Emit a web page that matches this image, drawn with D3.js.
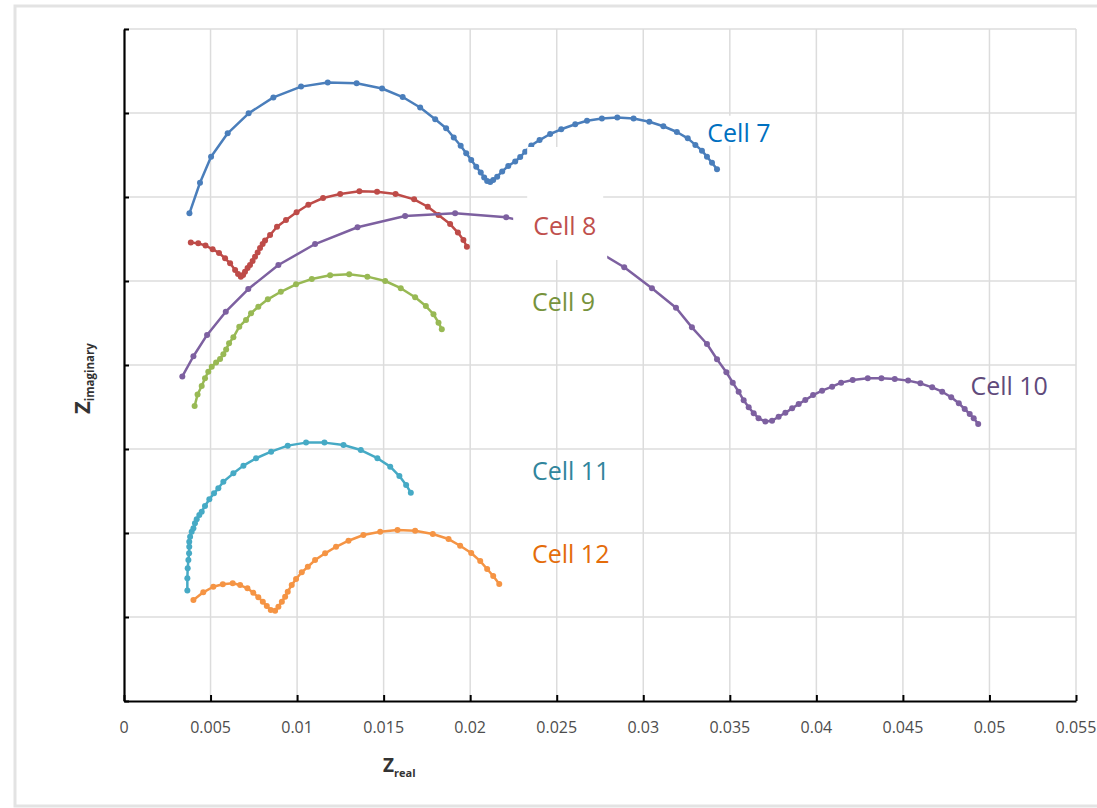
<!DOCTYPE html>
<html>
<head>
<meta charset="utf-8">
<script src="https://cdn.jsdelivr.net/npm/d3@7"></script>
<style>
  html, body { margin: 0; padding: 0; background: #fff; }
  svg { display: block; }
</style>
</head>
<body>
<div id="chart"></div>
<script>
// Nyquist plots, Zreal vs Zimaginary (offset per cell)
const xTicks = [0, 0.005, 0.01, 0.015, 0.02, 0.025, 0.03, 0.035, 0.04, 0.045, 0.05, 0.055];
const xTickLabels = ["0", "0.005", "0.01", "0.015", "0.02", "0.025", "0.03", "0.035", "0.04", "0.045", "0.05", "0.055"];
const yTicks = [0, 0.005, 0.01, 0.015, 0.02, 0.025, 0.03, 0.035, 0.04];

const cellNames = ["Cell 7", "Cell 8", "Cell 9", "Cell 10", "Cell 11", "Cell 12"];
const lineColors = ["#4A7EBB", "#BE4B48", "#98B954", "#7D60A0", "#46AAC5", "#F59444"];
const labelColors = ["#0070C0", "#C0504D", "#77933C", "#604A7B", "#31859C", "#E46C0A"];
// where each label sits, in data units [Zreal, Zimag]
const labelAt = [[0.0337, 0.03329], [0.02364, 0.02774], [0.02357, 0.02323], [0.0489, 0.01821], [0.02357, 0.01315], [0.02357, 0.0082]];

const cell7 = [[0.00378,0.02903],[0.00439,0.03085],[0.00503,0.03240],[0.00599,0.03379],[0.00720,0.03498],[0.00863,0.03593],
  [0.01023,0.03657],[0.01177,0.03682],[0.01344,0.03677],[0.01491,0.03646],[0.01610,0.03595],[0.01711,0.03533],[0.01798,0.03463],
  [0.01861,0.03409],[0.01905,0.03354],[0.01945,0.03305],[0.01977,0.03260],[0.02006,0.03220],[0.02035,0.03180],[0.02061,0.03146],
  [0.02081,0.03116],[0.02098,0.03095],[0.02116,0.03089],[0.02133,0.03101],[0.02156,0.03121],[0.02185,0.03152],[0.02220,0.03185],
  [0.02260,0.03211],[0.02289,0.03238],[0.02318,0.03270],[0.02353,0.03307],[0.02401,0.03339],[0.02462,0.03375],[0.02526,0.03403],
  [0.02607,0.03433],[0.02675,0.03454],[0.02761,0.03467],[0.02850,0.03473],[0.02944,0.03467],[0.03035,0.03448],[0.03116,0.03421],
  [0.03194,0.03387],[0.03257,0.03349],[0.03301,0.03310],[0.03339,0.03276],[0.03368,0.03240],[0.03397,0.03204],[0.03426,0.03165]];

const cell8 = [[0.00386,0.02729],[0.00429,0.02724],[0.00471,0.02711],[0.00512,0.02689],[0.00549,0.02667],[0.00584,0.02635],
  [0.00613,0.02605],[0.00642,0.02565],[0.00659,0.02542],[0.00675,0.02526],[0.00688,0.02536],[0.00699,0.02555],[0.00714,0.02577],
  [0.00728,0.02595],[0.00743,0.02619],[0.00757,0.02645],[0.00772,0.02670],[0.00786,0.02696],[0.00801,0.02720],[0.00815,0.02741],
  [0.00844,0.02774],[0.00884,0.02823],[0.00936,0.02863],[0.00997,0.02909],[0.01065,0.02954],[0.01150,0.02994],[0.01249,0.03018],
  [0.01360,0.03034],[0.01462,0.03031],[0.01569,0.03018],[0.01676,0.02986],[0.01755,0.02942],[0.01817,0.02893],[0.01884,0.02839],
  [0.01929,0.02788],[0.01961,0.02744],[0.01981,0.02704]];

const cell9 = [[0.00408,0.01756],[0.00425,0.01824],[0.00449,0.01875],[0.00468,0.01921],[0.00487,0.01960],[0.00507,0.01990],
  [0.00532,0.02015],[0.00555,0.02036],[0.00574,0.02064],[0.00590,0.02093],[0.00607,0.02129],[0.00632,0.02165],[0.00666,0.02228],
  [0.00705,0.02268],[0.00734,0.02308],[0.00776,0.02347],[0.00831,0.02391],[0.00906,0.02436],[0.00994,0.02480],[0.01085,0.02512],
  [0.01191,0.02534],[0.01301,0.02540],[0.01406,0.02526],[0.01509,0.02500],[0.01599,0.02457],[0.01682,0.02403],[0.01744,0.02351],
  [0.01788,0.02302],[0.01817,0.02252],[0.01836,0.02213]];

const cell10 = [[0.00337,0.01932],[0.00401,0.02052],[0.00480,0.02179],[0.00588,0.02317],[0.00718,0.02452],[0.00892,0.02595],
  [0.01104,0.02720],[0.01349,0.02820],[0.01624,0.02887],[0.01913,0.02903],[0.02208,0.02879],[0.02491,0.02815],[0.02705,0.02696],
  [0.02890,0.02582],[0.03050,0.02457],[0.03189,0.02341],[0.03281,0.02224],[0.03368,0.02125],[0.03426,0.02034],[0.03480,0.01957],
  [0.03517,0.01895],[0.03551,0.01841],[0.03580,0.01790],[0.03609,0.01748],[0.03638,0.01713],[0.03666,0.01683],[0.03705,0.01664],
  [0.03744,0.01668],[0.03782,0.01692],[0.03821,0.01716],[0.03860,0.01742],[0.03898,0.01768],[0.03936,0.01792],[0.03981,0.01821],
  [0.04033,0.01847],[0.04091,0.01871],[0.04143,0.01895],[0.04210,0.01911],[0.04297,0.01921],[0.04376,0.01921],[0.04453,0.01917],
  [0.04530,0.01907],[0.04601,0.01891],[0.04669,0.01867],[0.04727,0.01841],[0.04779,0.01808],[0.04823,0.01772],[0.04857,0.01738],
  [0.04886,0.01708],[0.04909,0.01683],[0.04935,0.01649]];

const cell11 = [[0.00366,0.00657],[0.00366,0.00730],[0.00368,0.00790],[0.00372,0.00839],[0.00376,0.00879],[0.00377,0.00918],
  [0.00377,0.00948],[0.00382,0.00978],[0.00391,0.01008],[0.00401,0.01028],[0.00410,0.01058],[0.00420,0.01082],[0.00435,0.01107],
  [0.00449,0.01127],[0.00468,0.01161],[0.00493,0.01201],[0.00520,0.01236],[0.00545,0.01266],[0.00574,0.01305],[0.00632,0.01355],
  [0.00690,0.01401],[0.00763,0.01445],[0.00850,0.01484],[0.00946,0.01520],[0.01052,0.01538],[0.01158,0.01538],[0.01268,0.01524],
  [0.01368,0.01494],[0.01464,0.01445],[0.01538,0.01395],[0.01591,0.01339],[0.01630,0.01286],[0.01657,0.01240]];

const cell12 = [[0.00401,0.00601],[0.00458,0.00647],[0.00516,0.00680],[0.00571,0.00695],[0.00628,0.00701],[0.00671,0.00690],
  [0.00713,0.00671],[0.00747,0.00645],[0.00776,0.00617],[0.00802,0.00591],[0.00825,0.00565],[0.00848,0.00542],[0.00873,0.00537],
  [0.00892,0.00561],[0.00912,0.00591],[0.00931,0.00621],[0.00946,0.00651],[0.00969,0.00690],[0.00994,0.00726],[0.01027,0.00766],
  [0.01062,0.00799],[0.01104,0.00839],[0.01162,0.00879],[0.01225,0.00918],[0.01297,0.00954],[0.01383,0.00988],[0.01480,0.01008],
  [0.01580,0.01018],[0.01682,0.01014],[0.01784,0.00994],[0.01875,0.00964],[0.01942,0.00924],[0.02006,0.00881],[0.02058,0.00833],
  [0.02098,0.00786],[0.02133,0.00744],[0.02168,0.00696]];

const allCells = [cell7, cell8, cell9, cell10, cell11, cell12];

const W = 1097, H = 808;
const margin = {top: 29, right: 21, bottom: 107, left: 124};

const svg = d3.select("#chart").append("svg")
  .attr("width", W)
  .attr("height", H);

// card frame
svg.append("rect")
  .attr("x", 15).attr("y", 6)
  .attr("width", 1110).attr("height", 800)
  .attr("fill", "#fff")
  .style("stroke", "#e3e3e3")
  .style("stroke-width", 3);

var x = d3.scaleLinear()
  .domain([0, 0.055])
  .range([margin.left, W - margin.right]);

var y = d3.scaleLinear()
  .domain([0, 0.04])
  .range([H - margin.bottom, margin.top]);

// grid
svg.append("g")
  .selectAll("line")
  .data(xTicks.slice(1))
  .enter().append("line")
    .attr("x1", d => x(d)).attr("x2", d => x(d))
    .attr("y1", y(0)).attr("y2", y(0.04))
    .style("stroke", "#dcdcdc")
    .style("stroke-width", 1.5);

svg.append("g")
  .selectAll("line")
  .data(yTicks.slice(1))
  .enter().append("line")
    .attr("x1", x(0)).attr("x2", x(0.055))
    .attr("y1", d => y(d)).attr("y2", d => y(d))
    .style("stroke", "#dcdcdc")
    .style("stroke-width", 1.5);

// axes (ticks pointing inside, no y labels)
var xAxis = svg.append("g")
  .attr("transform", "translate(0," + y(0) + ")")
  .call(d3.axisTop(x).tickValues(xTicks).tickSize(6).tickFormat("").tickSizeOuter(0));
xAxis.select(".domain").style("stroke", "#000").style("stroke-width", 2.2);
xAxis.selectAll(".tick line").style("stroke", "#000").style("stroke-width", 2);

var yAxis = svg.append("g")
  .attr("transform", "translate(" + x(0) + ",0)")
  .call(d3.axisRight(y).tickValues(yTicks).tickSize(5).tickFormat("").tickSizeOuter(0));
yAxis.select(".domain").style("stroke", "#000").style("stroke-width", 2.2);
yAxis.selectAll(".tick line").style("stroke", "#000").style("stroke-width", 2);

svg.append("g")
  .selectAll("text")
  .data(xTicks)
  .enter().append("text")
    .attr("x", d => x(d))
    .attr("y", y(0) + 32)
    .attr("text-anchor", "middle")
    .attr("font-family", "Open Sans")
    .attr("font-size", 16)
    .attr("fill", "#4d4d4d")
    .text((d, i) => xTickLabels[i]);

// axis titles
var xt = svg.append("text")
  .attr("x", 383).attr("y", 772)
  .attr("font-family", "Open Sans")
  .attr("font-weight", "bold")
  .attr("fill", "#333");
xt.append("tspan").attr("font-size", 19).text("Z");
xt.append("tspan").attr("font-size", 11).attr("dy", 5).text("real");

var yt = svg.append("text")
  .attr("transform", "translate(90,414) rotate(-90)")
  .attr("font-family", "Open Sans")
  .attr("font-weight", "bold")
  .attr("fill", "#333");
yt.append("tspan").attr("font-size", 22).text("Z");
yt.append("tspan").attr("font-size", 11.5).attr("dy", 4).text("imaginary");

// series
const line = d3.line().x(d => x(d[0])).y(d => y(d[1]));

allCells.forEach(function(cell, i) {
  var g = svg.append("g");
  g.append("path")
    .datum(cell)
    .attr("d", line)
    .attr("fill", "none")
    .style("stroke", lineColors[i])
    .style("stroke-width", 2.5)
    .style("stroke-linejoin", "round");
  g.selectAll("circle")
    .data(cell)
    .enter().append("circle")
      .attr("cx", d => x(d[0]))
      .attr("cy", d => y(d[1]))
      .attr("r", 3)
      .attr("fill", lineColors[i]);
});

// white text boxes behind Cell 7 and Cell 8 (as in the original)
var p7 = [x(labelAt[0][0]), y(labelAt[0][1])];
svg.append("rect")
  .attr("x", p7[0] - 2).attr("y", p7[1] - 26)
  .attr("width", 67).attr("height", 30)
  .attr("fill", "#fff");
var p8 = [x(labelAt[1][0]), y(labelAt[1][1])];
svg.append("rect")
  .attr("x", p8[0] - 6).attr("y", p8[1] - 88)
  .attr("width", 76).attr("height", 54)
  .attr("fill", "#fff");
svg.append("rect")
  .attr("x", p8[0] - 20).attr("y", p8[1] - 35)
  .attr("width", 94).attr("height", 60)
  .attr("fill", "#fff");

// labels
svg.append("g")
  .selectAll("text")
  .data(cellNames)
  .enter().append("text")
    .attr("x", (d, i) => x(labelAt[i][0]))
    .attr("y", (d, i) => y(labelAt[i][1]))
    .attr("font-family", "Open Sans")
    .attr("font-size", 25)
    .attr("fill", (d, i) => labelColors[i])
    .text(d => d);
</script>
</body>
</html>
